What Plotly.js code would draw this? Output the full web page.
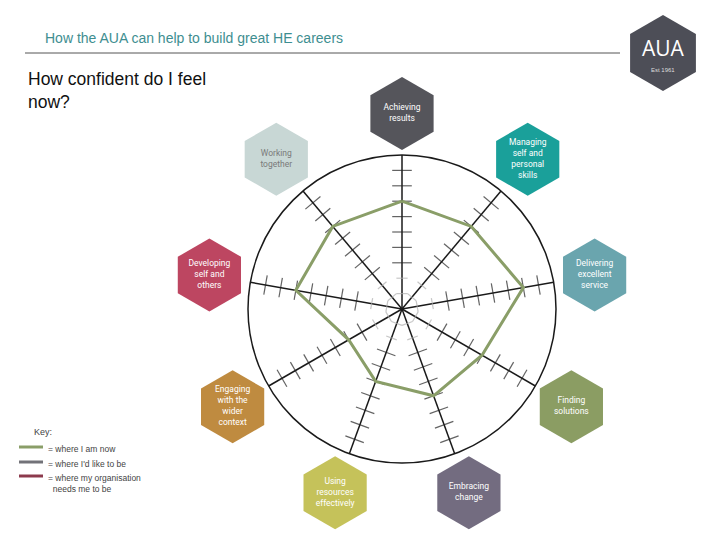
<!DOCTYPE html>
<html>
<head>
<meta charset="utf-8">
<script src="https://cdn.plot.ly/plotly-3.0.1.min.js"></script>
<style>html,body{margin:0;padding:0;background:#fff;}#chart{width:720px;height:540px;}</style>
</head>
<body>
<div id="chart"></div>
<script>
// ---- data ----
const categories = ["Achieving results","Managing self and personal skills","Delivering excellent service","Finding solutions","Embracing change","Using resources effectively","Engaging with the wider context","Developing self and others","Working together"];
const categoryLabels = ["Achieving<br>results","Managing<br>self and<br>personal<br>skills","Delivering<br>excellent<br>service","Finding<br>solutions","Embracing<br>change","Using<br>resources<br>effectively","Engaging<br>with the<br>wider<br>context","Developing<br>self and<br>others","Working<br>together"];
const categoryColors = ["#55555b","#1aa09a","#6aa5ae","#8b9d63","#736c80","#c5c25a","#bf8b40","#bd4661","#c8d7d5"];
const labelTextColors = ["#ffffff","#ffffff","#ffffff","#ffffff","#ffffff","#ffffff","#ffffff","#ffffff","#7a7a7a"];
const nowValues = [7, 7, 8, 6, 6, 5, 4, 7, 7];
const scaleTicks = [1,2,3,4,5,6,7,8,9];
const scaleMax = 10;
const seriesNames = ["= where I am now","= where I'd like to be","= where my organisation<br>  needs me to be"];
const seriesColors = ["#8a9e68","#727278","#8c3a4d"];

// ---- geometry helpers (pixel layout) ----
const W = 720, H = 540;
const cx = 402, cy = 309, R = 154;          // main wheel
const R2 = R * 1.5, range2 = scaleMax * 1.5; // outer label ring subplot
const labelRing = scaleMax * 1.27;

// ---- tick marks along each spoke ----
const tickR = [], tickT = [], tickA = [], tickC = [], tickS = [];
categories.forEach((c, i) => {
  scaleTicks.forEach(v => {
    tickR.push(v); tickT.push(c); tickA.push(i * 360 / categories.length);
    tickC.push(v <= 2 ? "#b0b0b0" : "#222222");
    tickS.push(v <= 2 ? 8 : 14);
  });
});

const traces = [
  {type:"scatterpolar", subplot:"polar", mode:"markers", r:tickR, theta:tickT, showlegend:false, hoverinfo:"skip",
   marker:{symbol:"line-ew", size:tickS, angle:tickA, line:{color:tickC, width:1.2}}},
  {type:"scatterpolar", subplot:"polar", mode:"lines", name:seriesNames[0],
   r:nowValues.concat([nowValues[0]]), theta:categories.concat([categories[0]]),
   line:{color:seriesColors[0], width:3}},
  {type:"scatterpolar", subplot:"polar2", mode:"markers+text", r:categories.map(() => labelRing), theta:categories,
   text:categoryLabels, textposition:"middle center", showlegend:false, cliponaxis:false, hoverinfo:"skip",
   textfont:{family:"Roboto, Open Sans, sans-serif", size:8.5, color:labelTextColors},
   marker:{symbol:"hexagon", size:73, color:categoryColors, line:{width:0}}}
];

// ---- logo hexagon ----
const lcx = 663, lcy = 53, lr = 38;
let p = "";
for (let k = 0; k < 6; k++) {
  const a = (Math.PI / 3) * k - Math.PI / 2;
  const px = (lcx + lr * Math.cos(a)) / W;
  const py = 1 - (lcy + lr * Math.sin(a)) / H;
  p += (k === 0 ? "M" : "L") + px.toFixed(5) + "," + py.toFixed(5);
}
p += "Z";

// ---- key (drawn as shapes + text) ----
const keyY = [447, 462, 476];
const keyShapes = seriesColors.map((col, i) => ({type:"line", xref:"paper", yref:"paper",
  x0:19/W, x1:43/W, y0:1-keyY[i]/H, y1:1-keyY[i]/H, line:{color:col, width:3}}));
const keyTexts = seriesNames.map((t, i) => ({text:t, xref:"paper", yref:"paper", x:46/W, y:1-(keyY[i]-5)/H,
  xanchor:"left", yanchor:"top", align:"left", showarrow:false, font:{size:8.5, color:"#444"}}));

const angAxisHidden = {type:"category", categoryarray:categories, rotation:90, direction:"clockwise",
  visible:false, showgrid:false, showline:false, ticks:"", showticklabels:false};

const layout = {
  width: W, height: H,
  margin:{l:0, r:0, t:0, b:0},
  paper_bgcolor:"#ffffff",
  font:{family:"Liberation Sans, Arial, sans-serif"},
  showlegend:false,
  polar2:{
    domain:{x:[(cx-R2)/W, (cx+R2)/W], y:[1-(cy+R2)/H, 1-(cy-R2)/H]},
    bgcolor:"rgba(0,0,0,0)",
    radialaxis:{range:[0, range2], visible:false, showgrid:false, showline:false, showticklabels:false, ticks:""},
    angularaxis:angAxisHidden
  },
  polar:{
    domain:{x:[(cx-R)/W, (cx+R)/W], y:[1-(cy+R)/H, 1-(cy-R)/H]},
    bgcolor:"rgba(0,0,0,0)",
    radialaxis:{range:[0, scaleMax], showgrid:false, showline:false, showticklabels:false, ticks:""},
    angularaxis:{type:"category", categoryarray:categories, rotation:90, direction:"clockwise",
                 showgrid:true, gridcolor:"#1a1a1a", gridwidth:1.5,
                 showline:true, linecolor:"#1a1a1a", linewidth:1.5,
                 ticks:"", showticklabels:false}
  },
  shapes:[
    {type:"line", xref:"paper", yref:"paper", x0:25/W, x1:620/W, y0:1-53/H, y1:1-53/H, line:{color:"#555", width:1}},
    {type:"path", xref:"paper", yref:"paper", path:p, fillcolor:"#4d4e57", line:{width:0}}
  ].concat(keyShapes),
  annotations:[
    {text:"How the AUA can help to build great HE careers", xref:"paper", yref:"paper", x:43/W, y:1-38/H,
     xanchor:"left", yanchor:"middle", showarrow:false, font:{size:14, color:"#3e8e90"}},
    {text:"How confident do I feel<br>now?", xref:"paper", yref:"paper", x:26/W, y:1-67/H,
     xanchor:"left", yanchor:"top", align:"left", showarrow:false, font:{size:17.5, color:"#111"}},
    {text:"AUA", xref:"paper", yref:"paper", x:lcx/W, y:1-48/H, xanchor:"center", yanchor:"middle",
     showarrow:false, font:{size:21, color:"#ffffff", family:"Open Sans, sans-serif"}},
    {text:"Est 1961", xref:"paper", yref:"paper", x:lcx/W, y:1-70/H, xanchor:"center", yanchor:"middle",
     showarrow:false, font:{size:6, color:"#dddddd"}},
    {text:"Key:", xref:"paper", yref:"paper", x:32/W, y:1-432/H, xanchor:"left", yanchor:"middle",
     showarrow:false, font:{size:9, color:"#444"}}
  ].concat(keyTexts)
};

Plotly.newPlot("chart", traces, layout, {displayModeBar:false, staticPlot:true});
</script>
</body>
</html>
